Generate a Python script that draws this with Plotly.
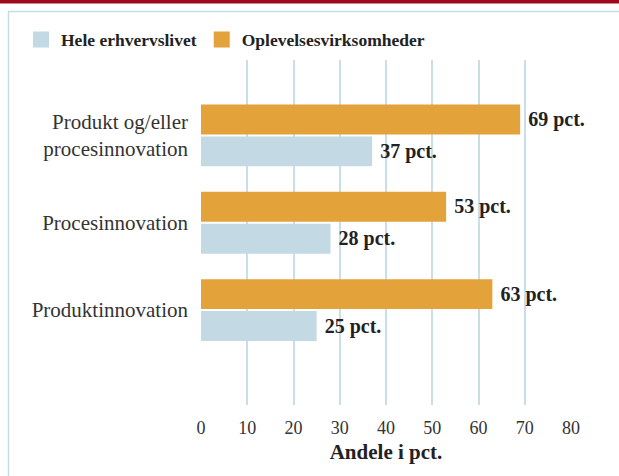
import plotly.graph_objects as go

categories = ["Produktinnovation", "Procesinnovation", "Produkt og/eller<br>procesinnovation"]
hele = [25, 28, 37]
oplevelse = [63, 53, 69]
x_ticks = [0, 10, 20, 30, 40, 50, 60, 70, 80]

SERIF = "Liberation Serif"
BLUE = "#c3d9e3"
ORANGE = "#e3a23a"
GRID = "#c9dee8"

# plot area in pixels: x 201..571, y 60..405
L, R, T, B = 201, 48, 60, 71
PW, PH = 619 - L - R, 476 - T - B


def px(x):
    return (x - L) / PW


def py(y):
    return (476 - B - y) / PH


label_font = dict(family=SERIF, size=20, color="#222222", weight="bold")

fig = go.Figure()
fig.add_trace(go.Bar(
    y=categories, x=hele, orientation="h", name="Hele erhvervslivet",
    marker=dict(color=BLUE, line=dict(width=0)), showlegend=False,
    text=hele, texttemplate="\u00a0%{x} pct.", textposition="outside",
    textfont=label_font, constraintext="none", cliponaxis=False,
))
fig.add_trace(go.Bar(
    y=categories, x=oplevelse, orientation="h", name="Oplevelsesvirksomheder",
    marker=dict(color=ORANGE, line=dict(width=0)), showlegend=False,
    text=oplevelse, texttemplate="\u00a0%{x} pct.", textposition="outside",
    textfont=label_font, constraintext="none", cliponaxis=False,
))
# legend entries with bigger square swatches
for name, color in [("Hele erhvervslivet", BLUE), ("Oplevelsesvirksomheder", ORANGE)]:
    fig.add_trace(go.Scatter(
        x=[None], y=[None], mode="markers", name=name,
        marker=dict(symbol="square", size=17, color=color),
    ))

# top red band and thin frame
fig.add_shape(type="rect", xref="paper", yref="paper", x0=px(0), x1=px(619),
              y0=py(3.5), y1=py(-2), fillcolor="#9c0a1c", line=dict(width=0), layer="above")
fig.add_shape(type="line", xref="paper", yref="paper", x0=px(8), x1=px(625),
              y0=py(11.5), y1=py(11.5), line=dict(color="#c5dbe5", width=1.5))
fig.add_shape(type="line", xref="paper", yref="paper", x0=px(8.5), x1=px(8.5),
              y0=py(11.5), y1=py(480), line=dict(color="#c5dbe5", width=1.5))

fig.update_layout(
    width=619, height=476,
    margin=dict(l=L, r=R, t=T, b=B),
    paper_bgcolor="white", plot_bgcolor="white",
    barmode="group", bargap=0.269, bargroupgap=0.0625,
    font=dict(family=SERIF, color="#333333"),
    showlegend=True,
    legend=dict(
        orientation="h", x=px(21), xanchor="left", y=py(39.5), yanchor="middle",
        font=dict(family=SERIF, size=17.5, color="#222222", weight="bold"),
        itemwidth=30, itemsizing="trace", bgcolor="rgba(0,0,0,0)",
        tracegroupgap=0,
    ),
    xaxis=dict(
        range=[0, 80], tickvals=x_ticks, showgrid=True, gridcolor=GRID, gridwidth=2,
        zeroline=False, showline=False, ticks="", ticklabelstandoff=10,
        tickfont=dict(family=SERIF, size=18, color="#333333"),
        title=dict(text="Andele i pct.", standoff=7,
                   font=dict(family=SERIF, size=21, color="#222222", weight="bold")),
    ),
    yaxis=dict(
        type="category", categoryorder="array", categoryarray=categories,
        range=[-1.086, 2.863], showgrid=False, zeroline=False, showline=False,
        ticks="", ticklabelstandoff=12,
        tickfont=dict(family=SERIF, size=21, color="#333333"),
    ),
)

fig.write_html("out.html", config={"displayModeBar": False},
               post_script="document.body.style.margin='0';")
